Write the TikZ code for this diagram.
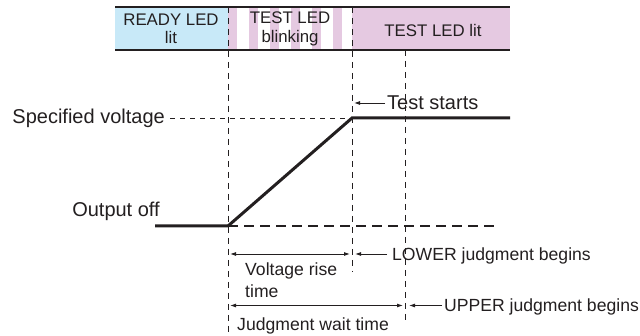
\documentclass[tikz,border=0pt]{standalone}
\usepackage{fontspec}
\setmainfont{Liberation Sans}
\usetikzlibrary{positioning,arrows.meta}
\definecolor{readyblue}{RGB}{200,233,248}
\definecolor{testpink}{RGB}{229,201,225}
\definecolor{ink}{RGB}{35,31,32}

\begin{document}
\begin{tikzpicture}[
  x=1pt, y=-1pt,
  big/.style={font=\fontsize{20}{22}\selectfont, text=ink, inner sep=0pt},
  small/.style={font=\fontsize{17.6}{21.7}\selectfont, text=ink, inner sep=0pt},
  band/.style={font=\fontsize{16.8}{18.3}\selectfont, text=ink, inner sep=0pt, align=center},
  guide/.style={draw=ink, line width=0.9pt, dash pattern=on 6pt off 5pt},
  signal/.style={draw=ink, line width=3pt},
  arr/.style={-{Latex[length=6pt,width=4pt]}, draw=ink, line width=0.9pt},
  span/.style={{Latex[length=6pt,width=4pt]}-{Latex[length=6pt,width=4pt]}, draw=ink, line width=0.9pt}
]
  \useasboundingbox (0,0) rectangle (640,336);

  % LED state band
  \fill[readyblue] (115,7) rectangle (228,50);
  \foreach \k in {0,...,5}
    \fill[testpink] (228+21*\k,7) rectangle (237+21*\k,50);
  \fill[testpink] (352,7) rectangle (510,50);
  \draw[ink, line width=1.5pt] (115,7) -- (510,7) (115,50) -- (510,50);
  \node[band] (ready) at (171,29) {READY LED\\lit};
  \node[band] (blink) at (290,29) {TEST LED\\blinking};
  \node[band, anchor=base] (lit) at (433,36.5) {TEST LED lit};

  % time marks
  \coordinate (t0top) at (228,7);
  \coordinate (t0bot) at (228,336);
  \coordinate (t1top) at (352,7);
  \coordinate (t1bot) at (352,272);
  \coordinate (t2top) at (405,50);
  \coordinate (t2bot) at (405,320);
  \draw[guide] (t0top) -- (t0bot);
  \draw[guide] (t1top) -- (t1bot);
  \draw[guide] (t2top) -- (t2bot);

  % output voltage
  \coordinate (off) at (155,226);
  \coordinate (rise) at (228,226);
  \coordinate (peak) at (352,118);
  \coordinate (hold) at (510,118);
  \coordinate (zero) at (500,226);
  \draw[draw=ink, line width=2pt, dash pattern=on 10pt off 6pt] (rise) -- (zero);
  \draw[signal] (off) -- (rise) -- (peak) -- (hold);

  \node[big, anchor=east] (spec) at (165,118) {Specified voltage};
  \draw[guide, dash pattern=on 5pt off 5pt] ([xshift=5pt]spec.east) -- (peak);
  \node[big] (outoff) at (116,211) {Output off};

  \coordinate (tstail) at (385,103);
  \coordinate (tstip) at (354,103);
  \draw[arr] (tstail) -- (tstip);
  \node[big, anchor=base west] (tstart) at ([shift={(2,7)}]tstail) {Test starts};

  % judgment timing
  \coordinate (risel) at (230,254);
  \coordinate (riser) at (350,254);
  \draw[span] (risel) -- (riser);
  \node[small, anchor=north west, align=left] (risetime) at (245,262.5) {Voltage rise\\time};

  \coordinate (lowtail) at (387,254);
  \coordinate (lowtip) at (355,254);
  \draw[arr] (lowtail) -- (lowtip);
  \node[small, anchor=base west] (lower) at ([shift={(5,7)}]lowtail) {LOWER judgment begins};

  \coordinate (waitl) at (230,305.5);
  \coordinate (waitr) at (403,305.5);
  \draw[span] (waitl) -- (waitr);
  \node[small, anchor=base west] (waittime) at (237,330.5) {Judgment wait time};

  \coordinate (uptail) at (442,305.5);
  \coordinate (uptip) at (409,305.5);
  \draw[arr] (uptail) -- (uptip);
  \node[small, anchor=base west] (upper) at ([shift={(2,6.5)}]uptail) {UPPER judgment begins};
\end{tikzpicture}
\end{document}
